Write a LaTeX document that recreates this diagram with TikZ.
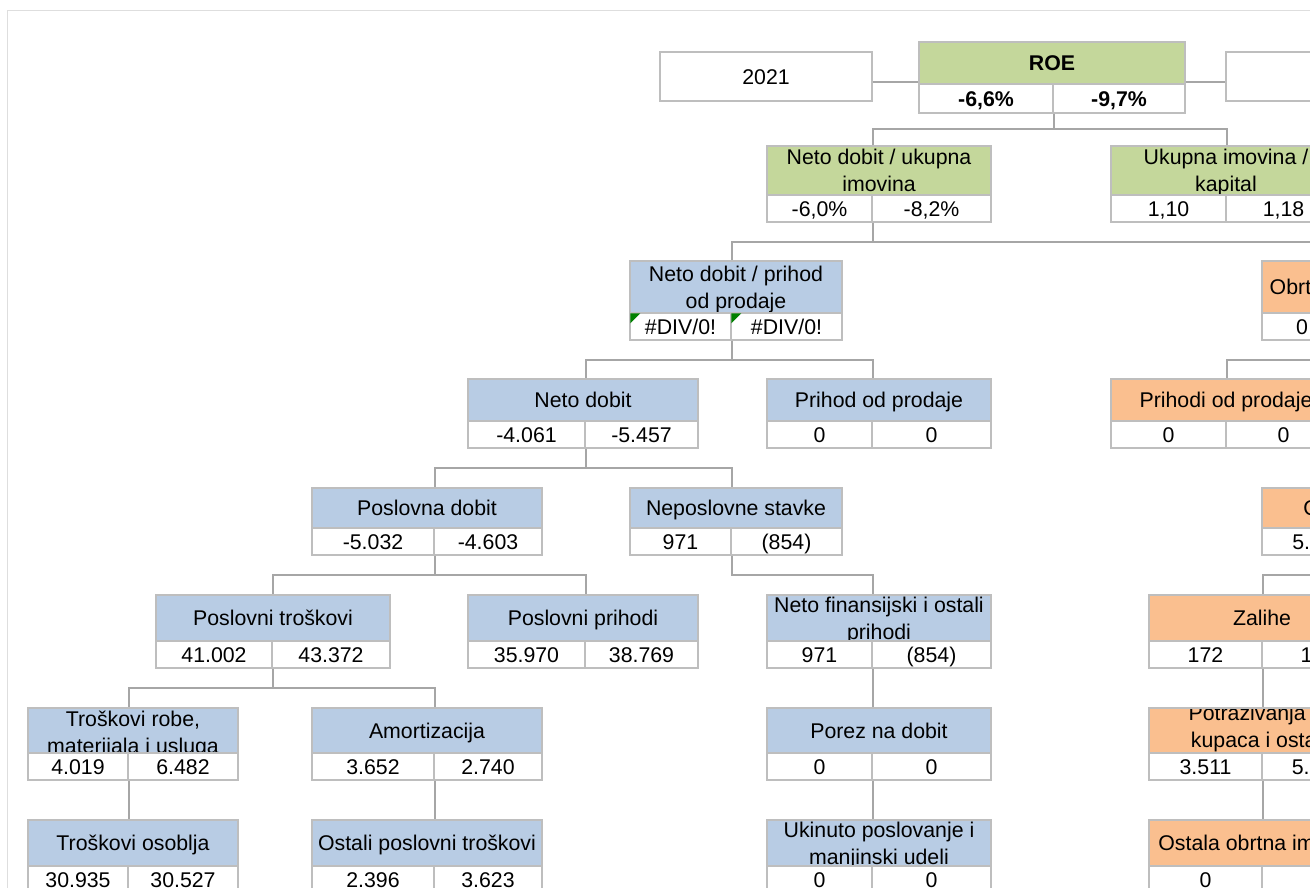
\documentclass[tikz,border=0pt]{standalone}
\usepackage{fontspec}
\setmainfont{Liberation Sans}
\usetikzlibrary{fit,calc}
\definecolor{hgreen}{RGB}{196,215,155}
\definecolor{hblue}{RGB}{184,204,228}
\definecolor{horange}{RGB}{250,191,143}
\definecolor{bordc}{RGB}{190,190,190}
\definecolor{connc}{RGB}{166,166,166}
\definecolor{framec}{RGB}{222,222,222}
\definecolor{errgreen}{RGB}{0,128,0}
\newcommand\kfont{\fontsize{21.3pt}{27pt}\selectfont}
\def\kpiparse#1/#2/#3/#4/#5/#6\relax{\def\kXa{#1}\def\kXb{#2}\def\kXc{#3}\def\kYa{#4}\def\kYb{#5}\def\kYc{#6}}
\tikzset{
  hdr/.style={draw=bordc, line width=1.5pt, inner sep=0pt},
  htxt/.style={font=\kfont, inner sep=0pt, text=black, text height=15.3pt, text depth=0pt},
  cell/.style={draw=bordc, line width=1.5pt, fill=white, inner sep=0pt},
  vtxt/.style={font=\kfont, inner sep=0pt, text=black, text height=15.3pt, text depth=0pt},
  conn/.style={draw=connc, line width=2pt},
}
\newcommand\kpihtext[3]{%
  \if\relax\detokenize{#2}\relax
    \node[htxt,#3] at (path picture bounding box.center) {#1};%
  \else
    \node[htxt,#3,yshift=13.5pt] at (path picture bounding box.center) {#1};%
    \node[htxt,#3,yshift=-13.5pt] at (path picture bounding box.center) {#2};%
  \fi}
% #1 extra header text options, #2 name, #3 fill, #4 geometry x1/xs/x2/yt/ym/yb, #5 line1, #6 line2, #7 v1, #8 v2
\newcommand\kpi[8][]{%
  \kpiparse#4\relax
  \node[hdr, fill=#3, fit={(\kXa,\kYa) (\kXc,\kYb)},
        path picture={\kpihtext{#5}{#6}{#1}}] (#2) {};
  \node[cell, fit={(\kXa,\kYb) (\kXb,\kYc)}] (#2-l) {};
  \node[cell, fit={(\kXb,\kYb) (\kXc,\kYc)}] (#2-r) {};
  \node[vtxt] at (#2-l.center) {#7};
  \node[vtxt] at (#2-r.center) {#8};
  \coordinate (#2-in) at (#2.north -| #2-l.east);
  \coordinate (#2-out) at (#2-l.south east);
}
\newcommand\kconn[2]{\draw[conn] (#1-out) |- ($(#1-out)!.5!(#2-in)$) -| (#2-in);}
\begin{document}
\begin{tikzpicture}[x=1pt,y=-1pt]
\useasboundingbox (0,0) rectangle (1310,888);
\clip (0,0) rectangle (1310,888);
\fill[white] (0,0) rectangle (1310,888);
\draw[framec, line width=1pt] (7,900) -- (7,11) -- (1330,11);

% year boxes
\node[cell, fit={(660,52) (872,101)}] (y2021) {};
\node[vtxt] at (y2021.center) {2021};
\node[cell, fit={(1226,52) (1438,101)}] (y2022) {};

% level 0
\kpi{roe}{hgreen}{919/1053/1185/42/84/113}{\bfseries ROE}{}{\bfseries -6,6\%}{\bfseries -9,7\%}
% level 1
\kpi{ndui}{hgreen}{767/872/991/146/195/222}{Neto dobit / ukupna}{imovina}{-6,0\%}{-8,2\%}
\kpi{uik}{hgreen}{1111/1226/1341/146/195/222}{Ukupna imovina /}{kapital}{1,10}{1,18}
% level 2
\kpi{ndpp}{hblue}{630/731/842/261/313/340}{Neto dobit / prihod}{od prodaje}{\#DIV/0!}{\#DIV/0!}
\kpi{oui}{horange}{1262/1342/1474/261/313/340}{Obrt ukupne imovine}{}{0}{0}
% level 3
\kpi{nd}{hblue}{468/585/698/379/421/448}{Neto dobit}{}{-4.061}{-5.457}
\kpi{pop}{hblue}{767/872/991/379/421/448}{Prihod od prodaje}{}{0}{0}
\kpi{pops}{horange}{1111/1226/1341/379/421/448}{Prihodi od prodaje}{}{0}{0}
% level 4
\kpi{pd}{hblue}{312/434/542/488/528/555}{Poslovna dobit}{}{-5.032}{-4.603}
\kpi{ns}{hblue}{630/731/842/488/528/555}{Neposlovne stavke}{}{971}{(854)}
\kpi{oi}{horange}{1262/1376/1489/488/528/555}{Obrtna imovina}{}{5.920}{6.480}
% level 5
\kpi{pt}{hblue}{156/272/390/595/641/668}{Poslovni troškovi}{}{41.002}{43.372}
\kpi{pp}{hblue}{468/585/698/595/641/668}{Poslovni prihodi}{}{35.970}{38.769}
\kpi{nfo}{hblue}{767/872/991/595/641/668}{Neto finansijski i ostali}{prihodi}{971}{(854)}
\kpi{zal}{horange}{1149/1262/1375/595/641/668}{Zalihe}{}{172}{145}
% level 6
\kpi[yshift=-1.5pt]{trmu}{hblue}{28/128/238/708/753/780}{Troškovi robe,}{materijala i usluga}{4.019}{6.482}
\kpi{am}{hblue}{312/434/542/708/753/780}{Amortizacija}{}{3.652}{2.740}
\kpi{pnd}{hblue}{767/872/991/708/753/780}{Porez na dobit}{}{0}{0}
\kpi[yshift=4pt]{pot}{horange}{1149/1262/1375/708/753/780}{Potraživanja od}{kupaca i ostala}{3.511}{5.962}
% level 7
\kpi{tos}{hblue}{28/128/238/820/866/893}{Troškovi osoblja}{}{30.935}{30.527}
\kpi{opt}{hblue}{312/434/542/820/866/893}{Ostali poslovni troškovi}{}{2.396}{3.623}
\kpi{upmu}{hblue}{767/872/991/820/866/893}{Ukinuto poslovanje i}{manjinski udeli}{0}{0}
\kpi{ooi}{horange}{1149/1262/1375/820/866/893}{Ostala obrtna imovina}{}{0}{0}

% error markers
\fill[errgreen] ([shift={(1,1)}]ndpp-l.north west) -- ++(10,0) -- ++(-10,10) -- cycle;
\fill[errgreen] ([shift={(1,1)}]ndpp-r.north west) -- ++(10,0) -- ++(-10,10) -- cycle;

% connectors
\coordinate (yl) at (0,82);
\draw[conn] (y2021.east |- yl) -- (roe.west |- yl);
\draw[conn] (roe.east |- yl) -- (y2022.west |- yl);
\kconn{roe}{ndui}
\kconn{roe}{uik}
\kconn{ndui}{ndpp}
\kconn{ndui}{oui}
\kconn{oui}{pops}
\kconn{ndpp}{nd}
\kconn{ndpp}{pop}
\kconn{nd}{pd}
\kconn{nd}{ns}
\kconn{pd}{pt}
\kconn{pd}{pp}
\kconn{ns}{nfo}
\kconn{pt}{trmu}
\kconn{pt}{am}
\kconn{trmu}{tos}
\kconn{am}{opt}
\kconn{nfo}{pnd}
\kconn{pnd}{upmu}
\kconn{oi}{zal}
\kconn{zal}{pot}
\kconn{pot}{ooi}
\end{tikzpicture}
\end{document}
